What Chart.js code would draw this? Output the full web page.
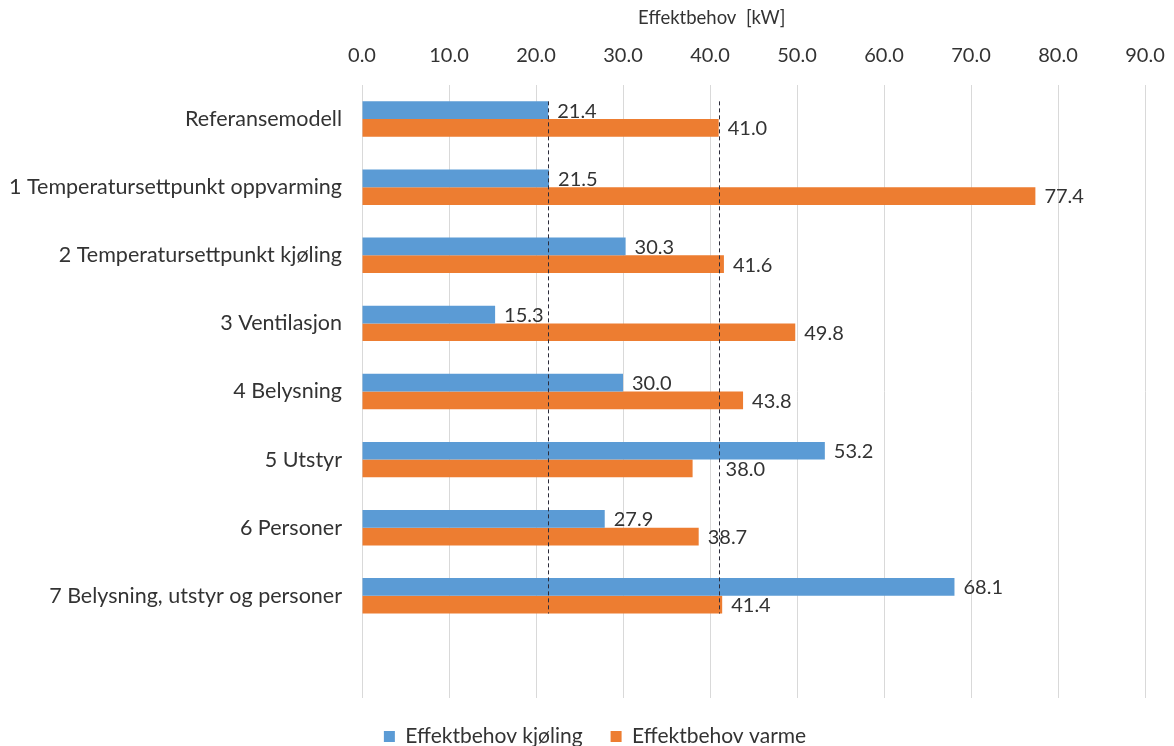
<!DOCTYPE html>
<html>
<head>
<meta charset="utf-8">
<script src="https://cdn.jsdelivr.net/npm/chart.js@4/dist/chart.umd.min.js"></script>
<style>
  html, body { margin: 0; padding: 0; background: #ffffff; }
  #wrap { width: 1174px; height: 746px; }
</style>
</head>
<body>
<div id="wrap"><canvas id="c" width="1174" height="746"></canvas></div>
<script>
// Tilfeller som er simulert
const categories = [
  'Referansemodell',
  '1 Temperatursettpunkt oppvarming',
  '2 Temperatursettpunkt kjøling',
  '3 Ventilasjon',
  '4 Belysning',
  '5 Utstyr',
  '6 Personer',
  '7 Belysning, utstyr og personer'
];

// Effektbehov [kW]
const coolingKW = [21.4, 21.5, 30.3, 15.3, 30.0, 53.2, 27.9, 68.1];
const heatingKW = [41.0, 77.4, 41.6, 49.8, 43.8, 38.0, 38.7, 41.4];

const seriesNames = ['Effektbehov kjøling', 'Effektbehov varme'];
const axisTitle = 'Effektbehov  [kW]';
const xTicks = [0, 10, 20, 30, 40, 50, 60, 70, 80, 90];

const BLUE = '#5b9bd5';
const ORANGE = '#ed7d31';
const TEXT = '#333333';
const FONT = 'Lato, "Open Sans", sans-serif';
const FS = 20;

// an empty row is kept below the last case
const labels = [...categories, ''];
const pad = arr => [...arr, null];

// extra horizontal nudge for labels that would sit on a reference line
const labelNudge = { '1:5': 24 };

const refLinesPlugin = {
  id: 'refLines',
  afterDatasetsDraw(chart) {
    const { ctx, scales: { x } } = chart;
    const m0 = chart.getDatasetMeta(0).data[0];
    const m1 = chart.getDatasetMeta(1).data[categories.length - 1];
    const top = m0.y - m0.height / 2;
    const bottom = m1.y + m1.height / 2;
    ctx.save();
    ctx.strokeStyle = '#2b2b3a';
    ctx.lineWidth = 1;
    ctx.setLineDash([4, 3]);
    [coolingKW[0], heatingKW[0]].forEach(v => {
      const px = Math.round(x.getPixelForValue(v)) + 0.5;
      ctx.beginPath();
      ctx.moveTo(px, top);
      ctx.lineTo(px, bottom);
      ctx.stroke();
    });
    ctx.restore();
  }
};

const valueLabelsPlugin = {
  id: 'valueLabels',
  afterDatasetsDraw(chart) {
    const { ctx } = chart;
    ctx.save();
    ctx.font = FS + 'px ' + FONT;
    ctx.fillStyle = TEXT;
    ctx.textAlign = 'left';
    ctx.textBaseline = 'middle';
    chart.data.datasets.forEach((ds, di) => {
      chart.getDatasetMeta(di).data.forEach((bar, i) => {
        const v = ds.data[i];
        if (v == null) return;
        const nudge = labelNudge[di + ':' + i] || 0;
        ctx.fillText(v.toFixed(1), bar.x + 9 + nudge, bar.y + 1);
      });
    });
    ctx.restore();
  }
};

const axisTitlePlugin = {
  id: 'axisTitle',
  afterDraw(chart) {
    const { ctx, scales: { x } } = chart;
    ctx.save();
    ctx.font = '18.5px ' + FONT;
    ctx.fillStyle = TEXT;
    ctx.textAlign = 'center';
    ctx.textBaseline = 'middle';
    ctx.fillText(axisTitle, x.getPixelForValue(40.2), 18);
    ctx.restore();
  }
};

// legend sits a little right of the canvas centre
const legendShift = {
  id: 'legendShift',
  afterLayout(chart) {
    if (chart.legend) {
      chart.legend.left += 8;
      chart.legend.right += 8;
    }
  }
};

new Chart(document.getElementById('c'), {
  type: 'bar',
  data: {
    labels: labels,
    datasets: [
      { label: seriesNames[0], data: pad(coolingKW), backgroundColor: BLUE,
        categoryPercentage: 0.52, barPercentage: 1.0 },
      { label: seriesNames[1], data: pad(heatingKW), backgroundColor: ORANGE,
        categoryPercentage: 0.52, barPercentage: 1.0 }
    ]
  },
  options: {
    indexAxis: 'y',
    responsive: false,
    animation: false,
    layout: { padding: { top: 27, right: 0, bottom: -11, left: 0 } },
    scales: {
      x: {
        position: 'top',
        min: 0,
        max: 90,
        afterBuildTicks(scale) { scale.ticks = xTicks.map(v => ({ value: v })); },
        afterFit(scale) { scale.paddingRight = 29; },
        ticks: {
          callback: v => Number(v).toFixed(1),
          font: { family: FONT, size: FS },
          color: TEXT,
          padding: 17,
          maxRotation: 0
        },
        grid: { color: '#d9d9d9', drawTicks: false },
        border: { display: false }
      },
      y: {
        afterFit(scale) { scale.width = 362; },
        ticks: {
          font: { family: FONT, size: 21.5 },
          color: TEXT,
          padding: 20
        },
        grid: { display: false, drawTicks: false },
        border: { display: false }
      }
    },
    plugins: {
      legend: {
        position: 'bottom',
        labels: {
          boxWidth: 11,
          boxHeight: 11,
          font: { family: FONT, size: 21 },
          color: TEXT,
          padding: 28
        }
      },
      tooltip: { enabled: false }
    }
  },
  plugins: [refLinesPlugin, valueLabelsPlugin, axisTitlePlugin, legendShift]
});
</script>
</body>
</html>
